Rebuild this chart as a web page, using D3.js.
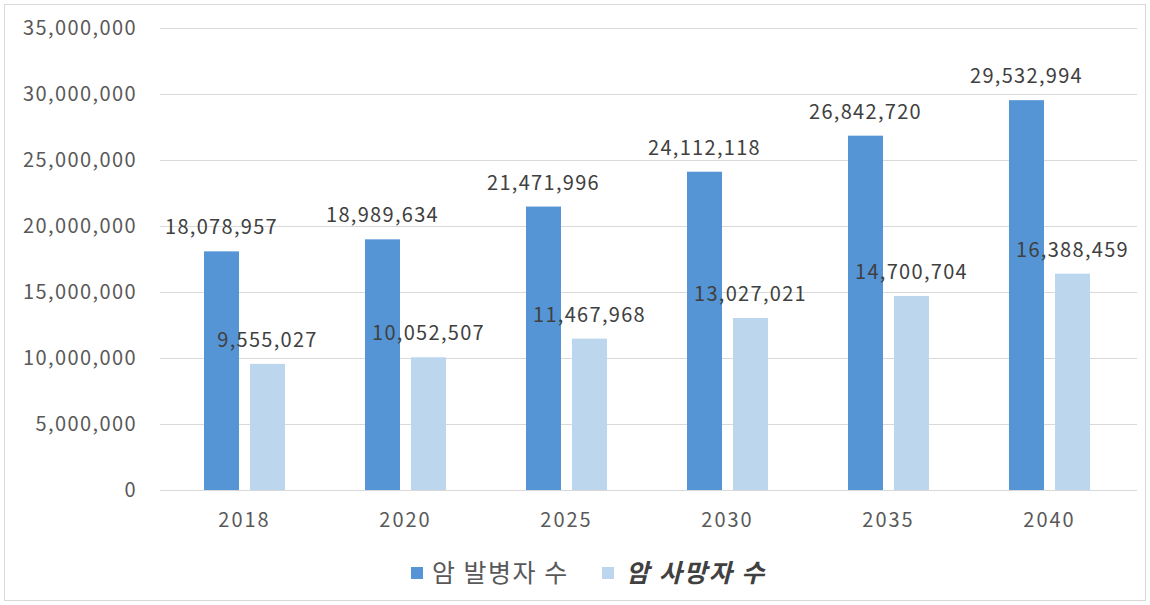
<!DOCTYPE html>
<html><head><meta charset="utf-8">
<script src="https://cdn.jsdelivr.net/npm/d3@7"></script>
<style>body{margin:0;background:#fff;}svg{display:block;}</style>
</head><body><svg id="c" width="1150" height="605"></svg>
<script>
const categories = ["2018","2020","2025","2030","2035","2040"];
const incidence = [18078957,18989634,21471996,24112118,26842720,29532994];
const deaths = [9555027,10052507,11467968,13027021,14700704,16388459];
const yTicks = [0,5000000,10000000,15000000,20000000,25000000,30000000,35000000];
const seriesNames = ["암 발병자 수","암 사망자 수"];

const svg = d3.select("#c");
const font = "'Noto Sans CJK KR','Noto Sans',sans-serif";
svg.append("rect").attr("x",4.5).attr("y",4.5).attr("width",1141).attr("height",596)
  .attr("fill","#fff").attr("stroke","#d9d9d9");

const x = d3.scaleBand().domain(categories).range([164,1130]);
const y = d3.scaleLinear().domain([0,35000000]).range([490,28]);
const fmt = d3.format(",");

const grid = svg.append("g");
grid.selectAll("line").data(yTicks).join("line")
  .attr("x1",160).attr("x2",1137)
  .attr("y1",d=>Math.round(y(d))+0.5).attr("y2",d=>Math.round(y(d))+0.5)
  .attr("stroke","#d9d9d9").attr("stroke-width",1);

const yAxis = d3.axisLeft(y).tickValues(yTicks).tickFormat(fmt).tickSize(0).tickPadding(0);
const ga = svg.append("g").attr("transform","translate(137,0)").call(yAxis);
ga.select(".domain").remove();
ga.selectAll("text").attr("font-family",font).attr("font-size",20).attr("letter-spacing","1.4px").attr("fill","#595959");

const xAxis = d3.axisBottom(x).tickSize(0).tickPadding(0);
const gx = svg.append("g").attr("transform","translate(0,512)").call(xAxis);
gx.select(".domain").remove();
gx.selectAll("text").attr("font-family",font).attr("font-size",20).attr("letter-spacing","2px").attr("fill","#595959").attr("dy","0.75em");

const off = 23, bw = 35;
const colors = ["#5595d6","#bcd6ee"];
[incidence, deaths].forEach((vals, si) => {
  const sign = si===0 ? -1 : 1;
  const g = svg.append("g");
  g.selectAll("rect").data(vals).join("rect")
    .attr("x",(d,i)=>x(categories[i])+x.bandwidth()/2+sign*off-bw/2)
    .attr("width",bw)
    .attr("y",d=>y(d)).attr("height",d=>y(0)-y(d))
    .attr("fill",colors[si]);
  g.selectAll("text").data(vals).join("text")
    .attr("x",(d,i)=>x(categories[i])+x.bandwidth()/2+sign*off)
    .attr("y",d=>y(d)-17)
    .attr("text-anchor","middle")
    .attr("font-family",font).attr("font-size",20).attr("letter-spacing","1.3px").attr("fill","#404040")
    .text(d=>fmt(d));
});

const leg = svg.append("g").attr("transform","translate(0,573)");
const legX = [411, 602];
seriesNames.forEach((n,i)=>{
  leg.append("rect").attr("x",legX[i]).attr("y",-6).attr("width",12).attr("height",12).attr("fill",colors[i]);
  leg.append("text").attr("x",legX[i]+(i===0?21:24)).attr("y",0).attr("dy","0.36em")
    .attr("font-family",font).attr("font-size",25).attr("fill", i===1?"#404040":"#595959")
    .attr("letter-spacing", i===1?"2px":"1.5px")
    .attr("font-style", i===1?"italic":"normal").attr("font-weight", i===1?"bold":"normal")
    .text(n);
});
</script></body></html>
